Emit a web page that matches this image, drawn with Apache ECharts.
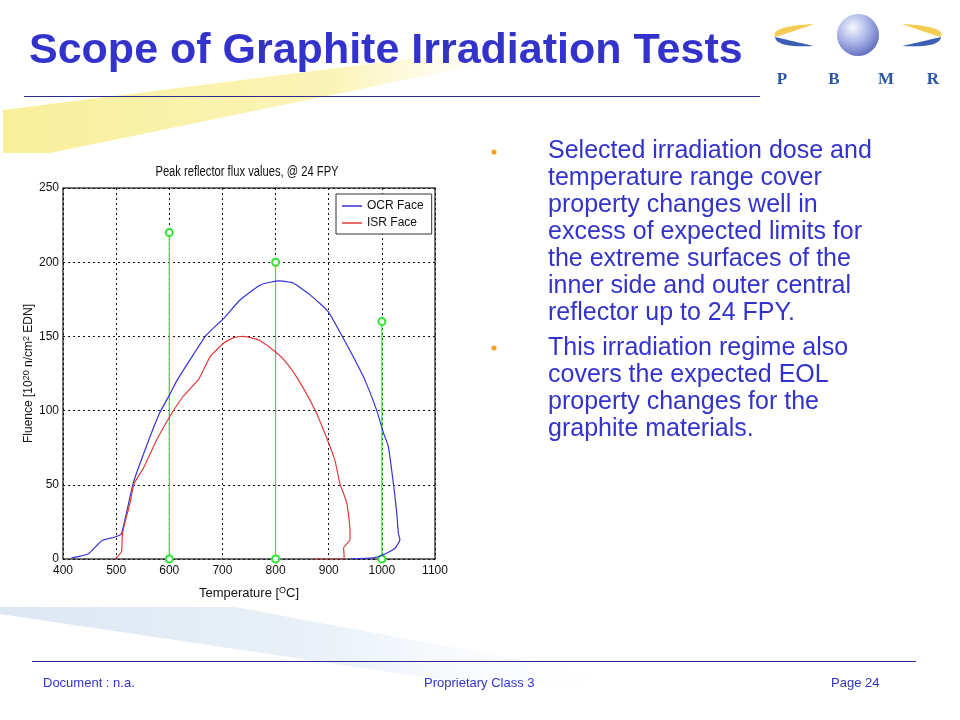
<!DOCTYPE html>
<html>
<head>
<meta charset="utf-8">
<script src="https://cdn.jsdelivr.net/npm/echarts@6/dist/echarts.min.js"></script>
<style>
html,body{margin:0;padding:0;background:#fff;}
#c{width:960px;height:720px;}
</style>
</head>
<body>
<div id="c"></div>
<script>
// ---- data ----
const ocrT = [416,448,473,498,510,532,557,582,601,614,635,670,702,733,771,790,808,833,865,899,924,946,968,990,1003,1012,1022,1028,1031,1034,1025,1003,984,940];
const ocrF = [0.7,3.6,12.3,14.8,17,51,76,98.5,111,120,132,151,162,174.5,184.7,186.5,187.4,186,178,166.7,151,136.4,120.7,100.5,85,76,50,31,17.5,13,7.4,2.9,0.7,0];
const isrT = [498,510,512,526,534,551,576,601,626,655,677,702,720,739,760,771,799,820,843,874,899,912,921,934,940,940,928,929,928,871];
const isrF = [0,5,17.5,37.7,51,61,80,96,109.5,121,136.4,145.4,149,150,148.5,147,139.8,132.5,120.7,100.5,79,66,51,37.7,19.7,13,7.4,1.7,0,0];
const stemT = [600,800,1000];
const stemTop = [220,200,160];
const xTicks = [400,500,600,700,800,900,1000,1100];
const yTicks = [0,50,100,150,200,250];
const seriesNames = ['OCR Face','ISR Face'];
const slideTitle = 'Scope of Graphite Irradiation Tests';
const chartTitle = 'Peak reflector flux values, @ 24 FPY';
const bullet1 = ['Selected irradiation dose and','temperature range cover','property changes well in','excess of expected limits for','the extreme surfaces of the','inner side and outer central','reflector up to 24 FPY.'];
const bullet2 = ['This irradiation regime also','covers the expected EOL','property changes for the','graphite materials.'];
const footer = ['Document : n.a.','Proprietary Class 3','Page 24'];
const logoLetters = ['P','B','M','R'];

const SANS = '"Liberation Sans",Arial,sans-serif';
const BLUE = '#3333cc';

const chart = echarts.init(document.getElementById('c'), null, {renderer:'canvas'});

const zip = (a,b) => a.map((v,i)=>[v,b[i]]);

// quadratic bezier sampler for decorative crescents
function qpts(p0,c,p1,n){const r=[];for(let i=0;i<=n;i++){const t=i/n,u=1-t;r.push([u*u*p0[0]+2*u*t*c[0]+t*t*p1[0],u*u*p0[1]+2*u*t*c[1]+t*t*p1[1]]);}return r;}
function crescent(a,c1,b,c2){return qpts(a,c1,b,16).concat(qpts(b,c2,a,16).slice(1));}
function mirror(pts){return pts.map(p=>[1716-p[0],p[1]]);}

const stemSeries = stemT.map((t,i)=>({
  type:'line', name:'stem'+i, data:[[t,0],[t,stemTop[i]]],
  symbol:'emptyCircle', symbolSize:7, showSymbol:true,
  lineStyle:{color:'#33e633', width:1.2}, itemStyle:{color:'#33e633', borderWidth:1.2},
  z:3, silent:true
}));

const graphics = [];
// yellow swoosh
graphics.push({type:'polygon', z:-10, shape:{points:[[3,110],[560,40],[560,48],[50,153],[3,153]]},
  style:{fill:{type:'linear',x:0,y:0,x2:1,y2:0,colorStops:[{offset:0,color:'#f8ef9a'},{offset:0.6,color:'#fbf4b8'},{offset:1,color:'rgba(255,255,255,0)'}]}}});
// blue bottom swoosh
graphics.push({type:'polygon', z:-10, shape:{points:[[0,607],[235,607],[650,684],[470,684],[0,614]]},
  style:{fill:{type:'linear',x:0,y:0,x2:1,y2:0,colorStops:[{offset:0,color:'#dce7f3'},{offset:0.5,color:'#eaf1f8'},{offset:1,color:'rgba(255,255,255,0)'}]}}});
// title
graphics.push({type:'text', x:29, y:51, style:{text:slideTitle, font:'bold 43px '+SANS, fill:BLUE, verticalAlign:'middle', align:'left'}});
graphics.push({type:'line', shape:{x1:24,y1:96.5,x2:760,y2:96.5}, style:{stroke:'#2a2a90', lineWidth:1}});
// logo
const yl = crescent([814,24],[770,26],[775,37],[792,32]);
const bl = crescent([775,37],[776,48],[814,46],[792,41]);
graphics.push({type:'polygon', shape:{points:yl}, style:{fill:'#f3cc55'}});
graphics.push({type:'polygon', shape:{points:bl}, style:{fill:'#3c5fb5'}});
graphics.push({type:'polygon', shape:{points:mirror(yl)}, style:{fill:'#f3cc55'}});
graphics.push({type:'polygon', shape:{points:mirror(bl)}, style:{fill:'#3c5fb5'}});
graphics.push({type:'circle', shape:{cx:858,cy:35,r:21}, style:{fill:{type:'radial',x:0.38,y:0.32,r:0.75,colorStops:[{offset:0,color:'#f6f8ff'},{offset:0.5,color:'#a9b4e6'},{offset:1,color:'#5866b8'}]}}});
logoLetters.forEach((l,i)=>{
  graphics.push({type:'text', x:[782,834,886,933][i], y:80, style:{text:l, font:'bold 17px "Liberation Serif",serif', fill:'#2a55a8', align:'center', verticalAlign:'middle'}});
});
// bullets
graphics.push({type:'circle', shape:{cx:494,cy:152,r:2.6}, style:{fill:'#f5a020'}});
graphics.push({type:'circle', shape:{cx:494,cy:348,r:2.6}, style:{fill:'#f5a020'}});
bullet1.forEach((t,i)=>graphics.push({type:'text', x:548, y:151+27*i, style:{text:t, font:'25px '+SANS, fill:BLUE, verticalAlign:'middle'}}));
bullet2.forEach((t,i)=>graphics.push({type:'text', x:548, y:348+27*i, style:{text:t, font:'25px '+SANS, fill:BLUE, verticalAlign:'middle'}}));
// chart title (condensed look)
graphics.push({type:'text', x:247, y:172, scaleX:0.8, originX:0, style:{text:chartTitle, font:'14px '+SANS, fill:'#111', align:'center', verticalAlign:'middle'}});
// footer
graphics.push({type:'line', shape:{x1:32,y1:661.5,x2:916,y2:661.5}, style:{stroke:'#2a2a90', lineWidth:1}});
[43,424,831].forEach((x,i)=>graphics.push({type:'text', x:x, y:683, style:{text:footer[i], font:'13px '+SANS, fill:BLUE, verticalAlign:'middle'}}));

const option = {
  backgroundColor:'#fff',
  animation:false,
  graphic:graphics,
  grid:{left:63, top:188, width:372, height:371, show:true, borderColor:'#444', borderWidth:1.5, backgroundColor:'#fff'},
  legend:{
    data:seriesNames, orient:'vertical', left:336, top:194,
    icon:'rect', itemWidth:20, itemHeight:1.5,
    backgroundColor:'#fff', borderColor:'#333', borderWidth:1, borderRadius:0,
    padding:[6,8,5,6], itemGap:5,
    textStyle:{fontFamily:SANS, fontSize:12, color:'#111'}
  },
  xAxis:{
    type:'value', min:xTicks[0], max:xTicks[xTicks.length-1], interval:100,
    name:'{a|Temperature [}{s|O}{a|C]}', nameLocation:'middle', nameGap:27,
    nameTextStyle:{rich:{a:{fontFamily:SANS, fontSize:13, color:'#111'}, s:{fontFamily:SANS, fontSize:9, color:'#111', verticalAlign:'top', padding:[0,0,6,0]}}},
    axisLine:{show:false}, axisTick:{show:false},
    axisLabel:{fontFamily:SANS, fontSize:12, color:'#111', margin:6, formatter:v=>String(v)},
    splitLine:{show:true, lineStyle:{color:'#111', type:[2,3], width:1}}
  },
  yAxis:{
    type:'value', min:yTicks[0], max:yTicks[yTicks.length-1], interval:50,
    name:'{a|Fluence [10}{s|20}{a| n/cm}{s|2}{a| EDN]}', nameLocation:'middle', nameGap:26,
    nameTextStyle:{rich:{a:{fontFamily:SANS, fontSize:12, color:'#111'}, s:{fontFamily:SANS, fontSize:9, color:'#111', verticalAlign:'top', padding:[0,0,6,0]}}},
    axisLine:{show:false}, axisTick:{show:false},
    axisLabel:{fontFamily:SANS, fontSize:12, color:'#111', margin:4, formatter:v=>String(v)},
    splitLine:{show:true, lineStyle:{color:'#111', type:[2,3], width:1}}
  },
  series:[
    {type:'line', name:seriesNames[0], data:zip(ocrT,ocrF), symbol:'none', smooth:0.15, lineStyle:{color:'#3434d8', width:1.2}, itemStyle:{color:'#3434d8'}, z:4},
    {type:'line', name:seriesNames[1], data:zip(isrT,isrF), symbol:'none', smooth:0.15, lineStyle:{color:'#e23a3a', width:1.2}, itemStyle:{color:'#e23a3a'}, z:4}
  ].concat(stemSeries)
};
chart.setOption(option);
</script>
</body>
</html>
